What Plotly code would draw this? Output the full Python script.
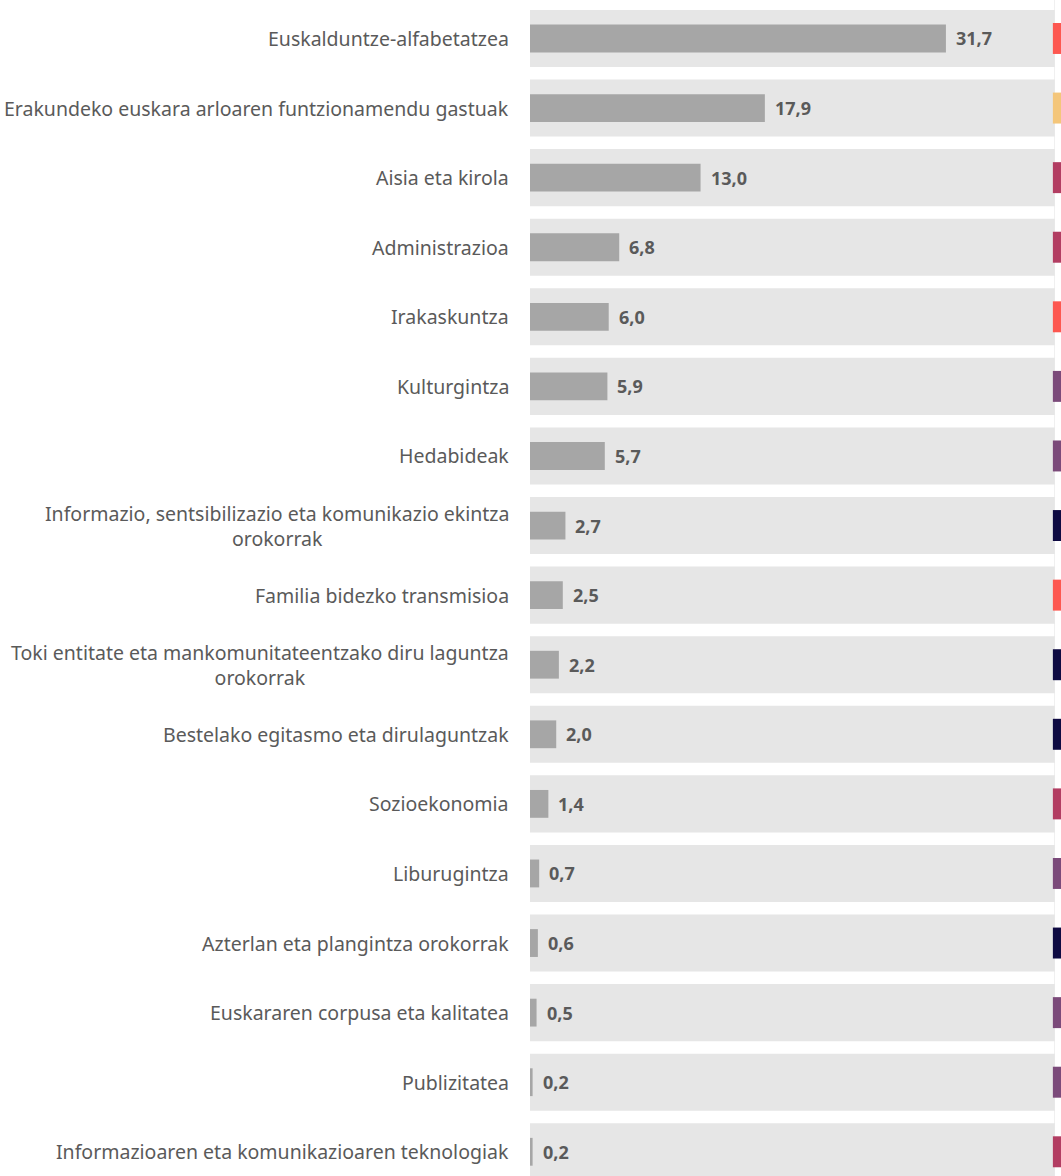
import plotly.graph_objects as go

categories = [
    "Euskalduntze-alfabetatzea",
    "Erakundeko euskara arloaren funtzionamendu gastuak",
    "Aisia eta kirola",
    "Administrazioa",
    "Irakaskuntza",
    "Kulturgintza",
    "Hedabideak",
    "Informazio, sentsibilizazio eta komunikazio ekintza<br>orokorrak",
    "Familia bidezko transmisioa",
    "Toki entitate eta mankomunitateentzako diru laguntza<br>orokorrak",
    "Bestelako egitasmo eta dirulaguntzak",
    "Sozioekonomia",
    "Liburugintza",
    "Azterlan eta plangintza orokorrak",
    "Euskararen corpusa eta kalitatea",
    "Publizitatea",
    "Informazioaren eta komunikazioaren teknologiak",
]
values = [31.7, 17.9, 13.0, 6.8, 6.0, 5.9, 5.7, 2.7, 2.5, 2.2, 2.0, 1.4, 0.7, 0.6, 0.5, 0.2, 0.2]
background_total = [40] * len(categories)

RED, YELLOW, CRIMSON, PURPLE, NAVY = "#FD5750", "#F4C67A", "#B23D62", "#7B4A7A", "#0E0A42"
group_colors = [RED, YELLOW, CRIMSON, CRIMSON, RED, PURPLE, PURPLE, NAVY, RED, NAVY,
                NAVY, CRIMSON, PURPLE, NAVY, PURPLE, PURPLE, CRIMSON]
strip_base = 39.85
strip_len = [2] * len(categories)

TXT = "#5A5A5A"
FONT = "Noto Sans"

fig = go.Figure()
fig.add_trace(go.Bar(y=categories, x=background_total, orientation="h", width=0.82,
                     marker=dict(color="#E6E6E6", line=dict(width=0)), hoverinfo="skip"))
fig.add_trace(go.Bar(y=categories, x=values, orientation="h", width=0.40,
                     marker=dict(color="#A6A6A6", line=dict(width=0))))
fig.add_trace(go.Bar(y=categories, x=strip_len, base=strip_base, orientation="h", width=0.445,
                     marker=dict(color=group_colors, line=dict(width=0)), hoverinfo="skip"))

annotations = []
for c, v in zip(categories, values):
    annotations.append(dict(x=v, y=c, xref="x", yref="y", text=f"{v:.1f}".replace(".", ","),
                            showarrow=False, xanchor="left", xshift=8,
                            font=dict(family=FONT, size=18, color=TXT, weight="bold")))
    annotations.append(dict(x=0, y=c, xref="paper", yref="y", text=c, showarrow=False,
                            xanchor="right", align="center", xshift=-19,
                            font=dict(family=FONT, size=19.5, color=TXT)))

fig.update_layout(
    width=1061, height=1176,
    margin=dict(l=530, r=0, t=0, b=0),
    paper_bgcolor="white", plot_bgcolor="white",
    barmode="overlay", showlegend=False,
    annotations=annotations,
    xaxis=dict(range=[0, 40.47], showticklabels=False, zeroline=False,
               tickvals=[40], showgrid=True, gridcolor="#F0F0F0", gridwidth=1, fixedrange=True),
    yaxis=dict(range=[16.348, -0.553], showticklabels=False, showgrid=False,
               zeroline=False, categoryorder="array", categoryarray=categories),
)
fig.write_html("out.html", config={"displayModeBar": False},
               post_script="document.body.style.margin='0';document.body.style.overflow='hidden';")
